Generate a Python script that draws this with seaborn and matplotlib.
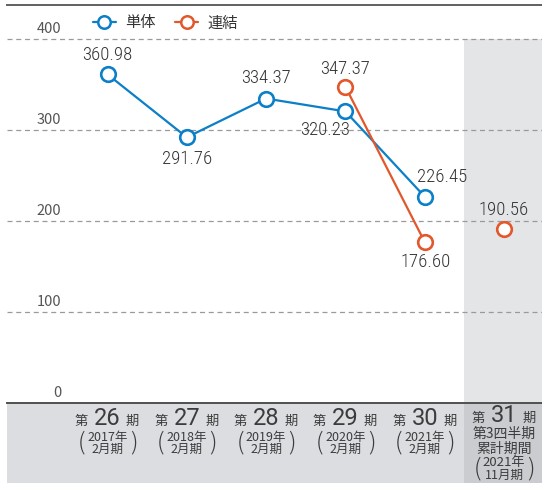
import numpy as np
import pandas as pd
import matplotlib
matplotlib.use("Agg")
import matplotlib.pyplot as plt
from matplotlib import font_manager
from matplotlib.patches import Rectangle
from matplotlib.lines import Line2D
import seaborn as sns

# ---------------- data ----------------
period_nums = ["26", "27", "28", "29", "30", "31"]
period_years = ["2017年", "2018年", "2019年", "2020年", "2021年"]
period_months = ["2月期", "2月期", "2月期", "2月期", "2月期"]
last_sub = ["第3四半期", "累計期間"]
last_year = "2021年"
last_month = "11月期"
standalone = [360.98, 291.76, 334.37, 320.23, 226.45, np.nan]
consolidated = [np.nan, np.nan, np.nan, 347.37, 176.60, 190.56]
yticks = [0, 100, 200, 300, 400]
series_names = ["単体", "連結"]

# ---------------- style ----------------
sns.set_style("white")
plt.rcParams["font.family"] = ["Noto Sans CJK JP", "DejaVu Sans"]

def has_font(name):
    try:
        font_manager.findfont(font_manager.FontProperties(family=name), fallback_to_default=False)
        return True
    except Exception:
        return False

if has_font("Liberation Sans Narrow"):
    num_family, num_size = ["Liberation Sans Narrow"], 14.5
elif has_font("Roboto Condensed"):
    num_family, num_size = ["Roboto Condensed"], 13.5
else:
    num_family, num_size = ["Noto Sans CJK JP"], 12.5
big_family = ["Roboto"] if has_font("Roboto") else ["Noto Sans CJK JP"]

BLUE = "#0b7fc7"
ORANGE = "#e2572b"
TXT = "#333333"

W, H = 542, 483
fig = plt.figure(figsize=(W / 100, H / 100), dpi=100)
ax_left, ax_right = 7, 542
ax_top, ax_bottom = 5, 402.5
ax = fig.add_axes([ax_left / W, (H - ax_bottom) / H, (ax_right - ax_left) / W, (ax_bottom - ax_top) / H])

px_per_unit = (402.6 - 39.0) / 400.0
ytop = (ax_bottom - ax_top) / px_per_unit
spacing = 79.3
x0 = 107.5
xl = (ax_left - x0) / spacing
xr = (ax_right - x0) / spacing
ax.set_xlim(xl, xr)
ax.set_ylim(0, ytop)

# shaded column in plot area
ax.add_patch(Rectangle((4.5, 0), xr - 4.5, 400, facecolor="#e4e5e7", edgecolor="none", zorder=0))

# gridlines
for yv in yticks[1:]:
    ax.axhline(yv, color="#9a9a9a", lw=0.9, ls=(0, (4, 3)), zorder=1)

# y tick labels
for yv in yticks:
    ax.annotate(str(yv), xy=((61.5 - ax_left) / (ax_right - ax_left), yv),
                xycoords=("axes fraction", "data"), xytext=(0, 6.8), textcoords="offset points",
                ha="right", va="center", fontsize=10.5, color="#555555", annotation_clip=False)

# data frames
idx = list(range(len(period_nums)))
df = pd.DataFrame({"idx": idx, "standalone": standalone, "consolidated": consolidated})

line_kw = dict(marker="o", markersize=10.5, markerfacecolor="white", markeredgewidth=1.9, lw=1.6)

s_df = df.iloc[:5].dropna(subset=["standalone"])
sns.lineplot(data=s_df, x="idx", y="standalone", color=BLUE, markeredgecolor=BLUE,
             ax=ax, zorder=4, **line_kw)
c_df = df.iloc[:5].dropna(subset=["consolidated"])
sns.lineplot(data=c_df, x="idx", y="consolidated", color=ORANGE, markeredgecolor=ORANGE,
             ax=ax, zorder=5, **line_kw)
c_last = df.iloc[5:].dropna(subset=["consolidated"])
sns.lineplot(data=c_last, x="idx", y="consolidated", color=ORANGE, markeredgecolor=ORANGE,
             ax=ax, zorder=5, **line_kw)

# data labels (offsets in px: dx, dy up)
s_off = [(0, 19), (0, -22), (0, 21), (-20, -19), (17, 20), None]
c_off = [None, None, None, (0, 18), (1, -20), (0, 19)]
for vals, offs in ((standalone, s_off), (consolidated, c_off)):
    for i, (v, o) in enumerate(zip(vals, offs)):
        if o is None or np.isnan(v):
            continue
        ax.annotate(f"{v:.2f}", xy=(i, v), xytext=(o[0] * 0.72, o[1] * 0.72),
                    textcoords="offset points", ha="center", va="center",
                    fontsize=num_size, family=num_family, fontweight="light", color=TXT, zorder=6)

# spines
sns.despine(ax=ax, left=True, right=True, top=False, bottom=False)
ax.spines["top"].set_color("#606060")
ax.spines["top"].set_linewidth(1.4)
ax.spines["bottom"].set_color("#505050")
ax.spines["bottom"].set_linewidth(1.4)
ax.set_xticks([])
ax.set_yticks([])
ax.set_xlabel("")
ax.set_ylabel("")

# bottom band
band_frac = (H - ax_bottom) / (ax_bottom - ax_top)
ax.add_patch(Rectangle((0, -band_frac), 1, band_frac, transform=ax.transAxes, clip_on=False,
                       facecolor="#dcdde0", edgecolor="none", zorder=0))
xs = (4.5 - xl) / (xr - xl)
ax.add_patch(Rectangle((xs, -band_frac), 1 - xs, band_frac, transform=ax.transAxes, clip_on=False,
                       facecolor="#cbccd0", edgecolor="none", zorder=0))

def band_text(i, dx_px, y_px, s, size, **kw):
    ax.annotate(s, xy=(i, 0), xycoords=("data", "axes fraction"),
                xytext=(dx_px * 0.72, -(y_px - ax_bottom) * 0.72), textcoords="offset points",
                ha="center", va=kw.pop("va", "center"), fontsize=size, color="#3c3c3c",
                annotation_clip=False, **kw)

for i, num in enumerate(period_nums):
    base = 425 if i < len(period_years) else 422
    band_text(i, -26, base, "第", 9.5, va="baseline")
    band_text(i, 0, base, num, 17, va="baseline", family=big_family)
    band_text(i, 25, base, "期", 9.5, va="baseline")
    if i < len(period_years):
        band_text(i, 0, 437.5, period_years[i], 9)
        band_text(i, 0, 449.5, period_months[i], 9)
        band_text(i, -26, 443, "(", 17, fontweight="light")
        band_text(i, 26, 443, ")", 17, fontweight="light")
    else:
        band_text(i, 0, 433.5, last_sub[0], 10)
        band_text(i, 0, 448.5, last_sub[1], 10)
        band_text(i, 0, 462.5, last_year, 9.5)
        band_text(i, 0, 475, last_month, 9)
        band_text(i, -27, 469, "(", 17, fontweight="light")
        band_text(i, 27, 469, ")", 17, fontweight="light")

# legend
handles = [Line2D([0], [0], color=c, lw=1.6, marker="o", markersize=9, markerfacecolor="white",
                  markeredgecolor=c, markeredgewidth=1.8) for c in (BLUE, ORANGE)]
leg = ax.legend(handles, series_names, loc="center left", bbox_to_anchor=(93 / W, (H - 23) / H),
                bbox_transform=fig.transFigure, ncol=2, frameon=False, fontsize=11,
                handlelength=1.5, handletextpad=0.6, columnspacing=1.3, borderpad=0, borderaxespad=0)
for t in leg.get_texts():
    t.set_color(TXT)

fig.savefig("out.png", dpi=100, facecolor="white")
